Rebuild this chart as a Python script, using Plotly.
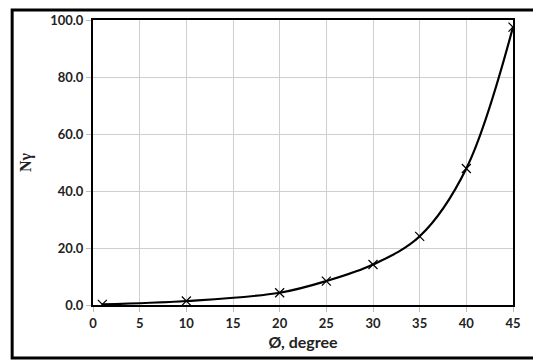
import plotly.graph_objects as go

phi = [1, 10, 20, 25, 30, 35, 40, 45]
n_gamma = [0.2, 1.4, 4.3, 8.4, 14.2, 24.1, 47.9, 97.5]
x_ticks = [0, 5, 10, 15, 20, 25, 30, 35, 40, 45]
y_ticks = [0, 20, 40, 60, 80, 100]

font_family = "Lato, 'Open Sans', sans-serif"

fig = go.Figure()
fig.add_trace(go.Scatter(
    x=phi, y=n_gamma, mode="lines+markers",
    line=dict(color="black", width=2.2, shape="spline", smoothing=1.0),
    marker=dict(symbol="x-thin-open", size=9, color="black",
                line=dict(color="black", width=1.2)),
    showlegend=False,
))

axis_common = dict(
    showgrid=True, gridcolor="#cfcfcf", gridwidth=1,
    showline=True, linecolor="black", linewidth=2, mirror=True,
    ticks="outside", ticklen=5, tickcolor="#bdbdbd", tickwidth=1,
    zeroline=False,
    tickfont=dict(family=font_family, size=13, color="#222", weight="bold"),
)

fig.update_xaxes(range=[0, 45], tickvals=x_ticks,
                 ticktext=[str(v) for v in x_ticks],
                 title=dict(text="Ø, degree", standoff=7,
                            font=dict(family=font_family, size=16, color="#222", weight="bold")),
                 **axis_common)
fig.update_yaxes(range=[0, 100], tickvals=y_ticks,
                 ticktext=[f"{v:.1f}" for v in y_ticks],
                 title=dict(text="<b>Nγ</b>", standoff=15,
                            font=dict(family="'Liberation Serif', serif", size=16, color="#222")),
                 **axis_common)

# outer chart frame
fig.add_shape(type="rect", xref="paper", yref="paper",
              x0=-0.1925, x1=1.06, y0=-0.186, y1=1.035,
              line=dict(color="black", width=3), layer="below")

fig.update_layout(
    width=533, height=361,
    margin=dict(l=93, r=14, t=19, b=56),
    paper_bgcolor="white", plot_bgcolor="white",
)

fig.write_html("out.html", config={"displayModeBar": False},
               post_script="document.body.style.margin='0';document.body.style.overflow='hidden';")
